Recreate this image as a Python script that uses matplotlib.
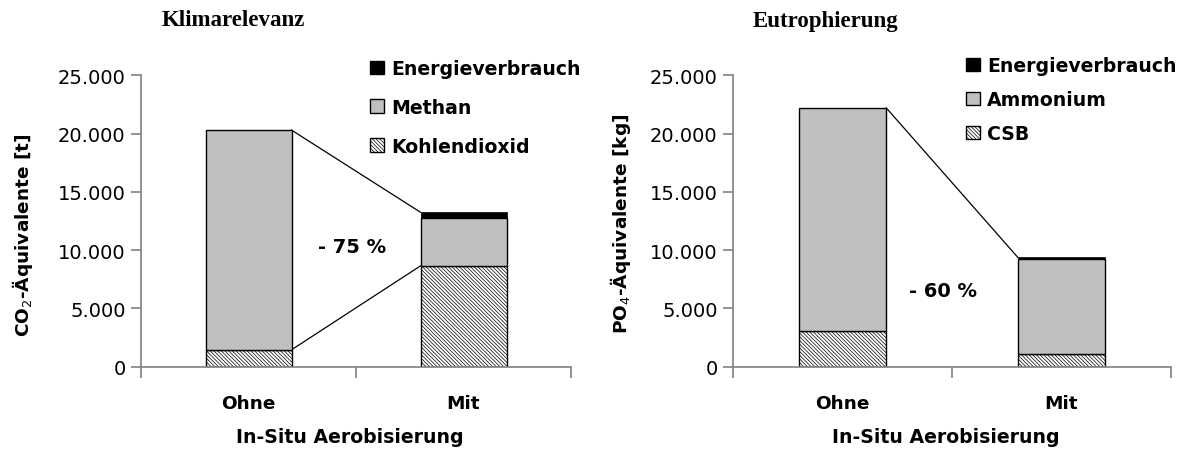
import matplotlib
matplotlib.use("Agg")
import matplotlib.pyplot as plt
from matplotlib.patches import Patch
from matplotlib.ticker import FuncFormatter

categories = ["Ohne", "Mit"]

# Klimarelevanz (CO2-Äquivalente [t])
klima_kohlendioxid = [1450, 8650]
klima_methan = [18850, 4100]
klima_energie = [0, 500]

# Eutrophierung (PO4-Äquivalente [kg])
eutro_csb = [3050, 1100]
eutro_ammonium = [19150, 8170]
eutro_energie = [0, 120]

reduction_labels = ["- 75 %", "- 60 %"]
yticks = [0, 5000, 10000, 15000, 20000, 25000]

W, H = 1184, 452
plt.rcParams['font.family'] = ['DejaVu Sans']
plt.rcParams['hatch.color'] = "#8c8c8c"
plt.rcParams['hatch.linewidth'] = 0.5
fig = plt.figure(figsize=(W / 100, H / 100), dpi=100)

GRAY = "#C0C0C0"
AXCOL = "#808080"
BW = 0.4
HATCH = "\\" * 9

def fmt(v, pos):
    return f"{int(v):,}".replace(",", ".")

def make_ax(rect):
    ax = fig.add_axes(rect)
    ax.set_xlim(-0.5, 1.5)
    ax.set_ylim(0, 25000)
    for s in ["top", "right"]:
        ax.spines[s].set_visible(False)
    for s in ["left", "bottom"]:
        ax.spines[s].set_color(AXCOL)
        ax.spines[s].set_linewidth(1.2)
    ax.set_yticks(yticks)
    ax.yaxis.set_major_formatter(FuncFormatter(fmt))
    ax.tick_params(axis="y", direction="out", length=7, width=1.2, color=AXCOL,
                   labelsize=14, pad=4)
    ax.set_xticks([-0.5, 0.5, 1.5])
    ax.set_xticklabels([])
    ax.tick_params(axis="x", direction="out", length=8, width=1.2, color=AXCOL)
    for i, c in enumerate(categories):
        ax.text(i, -3100, c, ha="center", va="center", fontsize=13.3, fontweight="bold")
    ax.text(0.47, -5950, "In-Situ Aerobisierung", ha="center", va="center",
            fontsize=13.6, fontweight="bold")
    return ax

def stack(ax, bottom_vals, mid_vals, top_vals):
    x = list(range(len(categories)))
    ax.bar(x, bottom_vals, width=BW, color="white", edgecolor="black", linewidth=1,
           hatch=HATCH, zorder=2)
    ax.bar(x, mid_vals, width=BW, bottom=bottom_vals, color=GRAY, edgecolor="black",
           linewidth=1, zorder=2)
    b3 = [a + b for a, b in zip(bottom_vals, mid_vals)]
    ax.bar(x, top_vals, width=BW, bottom=b3, color="black", edgecolor="black",
           linewidth=0.5, zorder=2)
    return [a + b for a, b in zip(b3, top_vals)]

leg_kw = dict(loc="upper left", frameon=False, prop={"weight": "bold", "size": 13.6},
              handlelength=0.72, handleheight=0.72, handletextpad=0.4,
              borderpad=0, borderaxespad=0)

# Left chart
ax1 = make_ax([141 / W, 1 - 367.7 / H, 430 / W, 291.4 / H])
tot = stack(ax1, klima_kohlendioxid, klima_methan, klima_energie)
ax1.plot([BW / 2, 1 - BW / 2], [tot[0], tot[1]], color="black", lw=0.9, zorder=1)
ax1.plot([BW / 2, 1 - BW / 2], [klima_kohlendioxid[0], klima_kohlendioxid[1]],
         color="black", lw=0.9, zorder=1)
ax1.text(0.48, 10300, reduction_labels[0], ha="center", va="center", fontsize=14, fontweight="bold")
ax1.set_ylabel("CO$_2$-Äquivalente [t]", fontsize=13.3, fontweight="bold")
ax1.yaxis.set_label_coords((35 - 141) / 430, (367.7 - 235) / 291.4)
fig.text(233 / W, 1 - 21 / H, "Klimarelevanz", ha="center", va="center",
         fontsize=16.5, fontweight="bold", family="Liberation Serif")
h1 = [Patch(facecolor="black", edgecolor="black", label="Energieverbrauch"),
      Patch(facecolor=GRAY, edgecolor="black", label="Methan"),
      Patch(facecolor="white", edgecolor="black", hatch=HATCH, label="Kohlendioxid")]
fig.legend(handles=h1, bbox_to_anchor=(370 / W, 1 - 60 / H), labelspacing=1.05, **leg_kw)

# Right chart
ax2 = make_ax([733 / W, 1 - 367.7 / H, 438 / W, 291.4 / H])
totr = stack(ax2, eutro_csb, eutro_ammonium, eutro_energie)
ax2.plot([BW / 2, 1 - BW / 2], [totr[0], totr[1]], color="black", lw=0.9, zorder=1)
ax2.text(0.46, 6500, reduction_labels[1], ha="center", va="center", fontsize=14, fontweight="bold")
ax2.set_ylabel("PO$_4$-Äquivalente [kg]", fontsize=13.3, fontweight="bold")
ax2.yaxis.set_label_coords((633 - 733) / 438, (367.7 - 224) / 291.4)
fig.text(826 / W, 1 - 21 / H, "Eutrophierung", ha="center", va="center",
         fontsize=16.5, fontweight="bold", family="Liberation Serif")
h2 = [Patch(facecolor="black", edgecolor="black", label="Energieverbrauch"),
      Patch(facecolor=GRAY, edgecolor="black", label="Ammonium"),
      Patch(facecolor="white", edgecolor="black", hatch=HATCH, label="CSB")]
fig.legend(handles=h2, bbox_to_anchor=(966 / W, 1 - 57 / H), labelspacing=0.8, **leg_kw)

fig.savefig("out.png", dpi=100)
